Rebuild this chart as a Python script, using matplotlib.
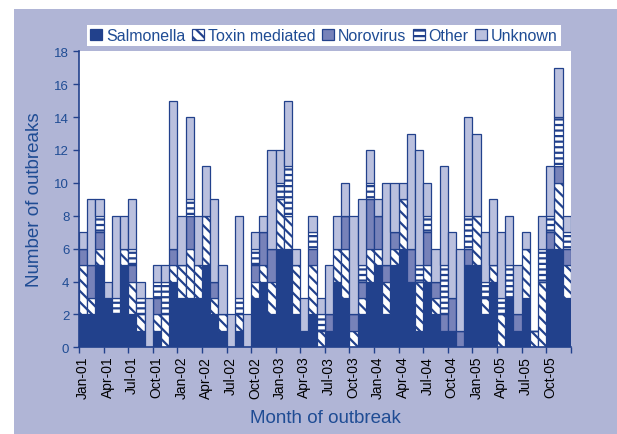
import numpy as np
import matplotlib
matplotlib.use('Agg')
import matplotlib.pyplot as plt
from matplotlib.patches import Rectangle

# monthly outbreak counts, Jan-01 .. Dec-05
years = ['01', '02', '03', '04', '05']
mnames = ['Jan', 'Feb', 'Mar', 'Apr', 'May', 'Jun', 'Jul', 'Aug', 'Sep', 'Oct', 'Nov', 'Dec']
months = [m + '-' + y for y in years for m in mnames]

salmonella = [2, 2, 5, 3, 2, 5, 2, 1, 0, 1, 0, 4,
              3, 3, 3, 5, 2, 1, 0, 1, 0, 3, 4, 2,
              6, 6, 2, 1, 2, 0, 1, 4, 3, 0, 2, 4,
              5, 2, 5, 6, 4, 1, 4, 2, 1, 1, 0, 5,
              5, 2, 4, 0, 3, 1, 3, 0, 0, 6, 6, 3]
toxin = [3, 1, 1, 0, 0, 1, 2, 1, 0, 1, 2, 1,
         2, 3, 2, 3, 1, 1, 0, 1, 0, 1, 1, 2,
         3, 2, 3, 0, 3, 1, 0, 2, 3, 1, 1, 2,
         1, 2, 1, 3, 0, 3, 1, 1, 0, 0, 0, 0,
         3, 1, 1, 2, 0, 0, 3, 1, 4, 0, 4, 2]
norovirus = [1, 2, 1, 0, 0, 0, 1, 0, 0, 1, 0, 1,
             0, 2, 0, 0, 1, 0, 0, 0, 0, 1, 2, 2,
             0, 0, 0, 0, 1, 0, 1, 0, 2, 1, 1, 3,
             2, 1, 1, 0, 2, 0, 2, 1, 1, 2, 1, 1,
             0, 0, 0, 0, 0, 1, 0, 0, 0, 1, 1, 1]
other = [0, 0, 1, 0, 1, 0, 1, 1, 0, 1, 2, 0,
         0, 1, 0, 0, 0, 0, 0, 1, 0, 1, 0, 0,
         1, 3, 0, 0, 1, 1, 0, 0, 0, 0, 1, 1,
         0, 0, 0, 0, 0, 1, 1, 0, 3, 0, 0, 2,
         0, 1, 0, 1, 2, 0, 0, 0, 2, 1, 3, 1]
unknown = [1, 4, 1, 1, 5, 2, 3, 1, 3, 1, 1, 9,
           3, 5, 3, 3, 5, 3, 2, 5, 2, 1, 1, 6,
           2, 4, 1, 2, 1, 1, 3, 2, 2, 6, 4, 2,
           1, 5, 3, 1, 7, 7, 2, 2, 6, 4, 5, 6,
           5, 3, 4, 4, 3, 3, 1, 0, 2, 3, 3, 1]

navy = '#22418C'
textc = '#1F4C94'
lav = '#B0B5D6'
plt.rcParams['font.family'] = ['Liberation Sans', 'DejaVu Sans']
plt.rcParams['hatch.color'] = navy
plt.rcParams['hatch.linewidth'] = 1.6

fig = plt.figure(figsize=(6.17, 4.35), dpi=100, facecolor='white')
fig.patches.append(Rectangle((14 / 617, 0), 1, 1 - 10 / 435, transform=fig.transFigure,
                             facecolor=lav, edgecolor='none', zorder=-10))
ax = fig.add_axes([79 / 617, 1 - 348.3 / 435, (570.7 - 79) / 617, (348.3 - 52.3) / 435])
ax.set_facecolor('white')

series = [
    ('Salmonella', salmonella, navy, None),
    ('Toxin mediated', toxin, 'white', '\\\\\\'),
    ('Norovirus', norovirus, '#7782B9', None),
    ('Other', other, 'white', '---'),
    ('Unknown', unknown, '#BAC0DE', None),
]
x = np.arange(len(months))
bottom = np.zeros(len(months))
for name, vals, col, hat in series:
    vals = np.array(vals)
    ax.bar(x, vals, width=1.0, bottom=bottom, color=col, edgecolor=navy,
           linewidth=0.9, hatch=hat, label=name)
    bottom += vals

ax.set_xlim(-0.5, 59.5)
ax.set_ylim(0, 18)
ax.set_yticks(range(0, 19, 2))
ax.set_xticks(np.arange(-0.5, 60, 3))
ax.set_xticklabels([])
ax.set_xticks(np.arange(0, 60, 3), minor=True)
ax.set_xticklabels(months[::3], minor=True, rotation=90)
ax.tick_params(axis='x', which='minor', length=0, pad=6)
ax.tick_params(axis='x', which='major', length=4, width=1, color=navy)
ax.tick_params(axis='y', length=4, width=1, color=navy, pad=3)
ax.tick_params(labelsize=9.5, labelcolor=textc)
for s in ['top', 'right']:
    ax.spines[s].set_visible(False)
for s in ['left', 'bottom']:
    ax.spines[s].set_color(navy)
    ax.spines[s].set_linewidth(1.2)

fig.text(35 / 617, 1 - 200 / 435, 'Number of outbreaks', rotation=90, ha='center', va='center',
         fontsize=13.5, color=textc)
fig.text(325 / 617, 1 - 419 / 435, 'Month of outbreak', ha='center', va='center',
         fontsize=13.5, color=textc)

leg = fig.legend(loc='center', bbox_to_anchor=(324 / 617, 1 - 36.5 / 435), ncol=5,
                 fontsize=11.5, frameon=True, fancybox=False, handlelength=0.75,
                 handleheight=0.75, handletextpad=0.25, columnspacing=0.4,
                 borderpad=0.2, borderaxespad=0)
leg.get_frame().set_edgecolor('none')
leg.get_frame().set_facecolor('white')
leg.get_frame().set_alpha(1)
for t in leg.get_texts():
    t.set_color(textc)

plt.savefig('out.png', dpi=100, facecolor=fig.get_facecolor())
